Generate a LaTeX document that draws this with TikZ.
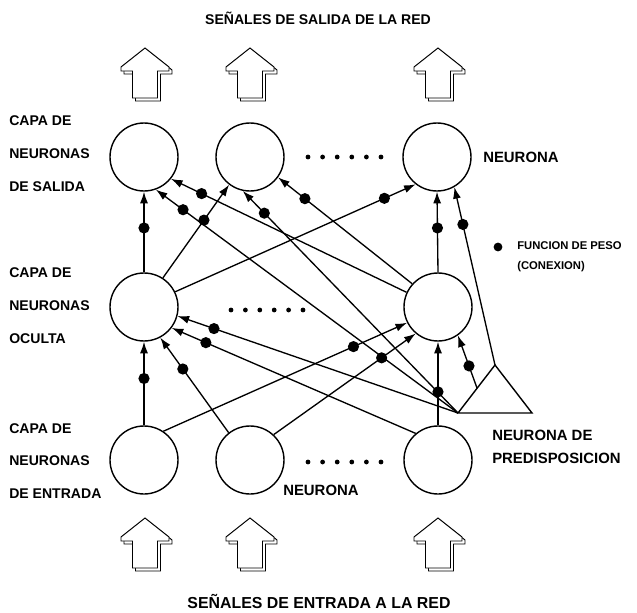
\documentclass[tikz,border=0pt]{standalone}
\usepackage{fontspec}
\setmainfont{Liberation Sans}
\usetikzlibrary{arrows.meta}

\begin{document}
\begin{tikzpicture}[
  x=0.25mm, y=-0.25mm,
  font=\bfseries\fontsize{10.6}{13}\selectfont,
  neurona/.style={circle,draw,line width=1pt,minimum size=17mm,inner sep=0pt},
  con/.style={line width=0.95pt,-{Latex[length=2.9mm,width=2mm]}},
  peso/.style={circle,fill,inner sep=0pt,minimum size=2.8mm},
  capa/.style={anchor=west,inner sep=0pt,align=left,font=\bfseries\fontsize{10}{23.4}\selectfont},
  rotulo/.style={anchor=west,inner sep=0pt},
  titulo/.style={inner sep=0pt},
  flecha/.pic={
    \draw[line width=0.7pt,fill=white,shift={(3,3)}] (0,0) -- (-24,19) -- (-24,23) -- (-12.5,23) -- (-12.5,50)
      -- (12.5,50) -- (12.5,23) -- (24,23) -- (24,19) -- cycle;
    \draw[line width=0.7pt,fill=white] (0,0) -- (-24,19) -- (-24,23) -- (-12.5,23) -- (-12.5,50)
      -- (12.5,50) -- (12.5,23) -- (24,23) -- (24,19) -- cycle;
  }
]
\useasboundingbox (0,0) rectangle (637,613);

\node[titulo,font=\bfseries\fontsize{10}{13}\selectfont] (salida) at (318,18) {SEÑALES DE SALIDA DE LA RED};
\node[titulo,font=\bfseries\fontsize{11.3}{13}\selectfont] (entrada) at (319,602) {SEÑALES DE ENTRADA A LA RED};

\foreach \x in {145,250,438} {
  \pic at (\x,48) {flecha};
  \pic at (\x,518) {flecha};
}

\node[neurona] (O1) at (144,157) {};
\node[neurona] (O2) at (250,157) {};
\node[neurona] (O3) at (437,157) {};
\node[neurona] (H1) at (144,307) {};
\node[neurona] (H3) at (438,307) {};
\node[neurona] (I1) at (144,460) {};
\node[neurona] (I2) at (250,460) {};
\node[neurona] (I3) at (438,460) {};

\coordinate (Bt) at (495,365);
\coordinate (Bl) at (458,413);
\coordinate (Br) at (532,413);
\coordinate (Bs) at (477,388);
\draw[line width=1pt] (Bt) -- (Bl) -- (Br) -- cycle;

\foreach \k in {0,...,5} {
  \fill (308+14.6*\k,157) circle[radius=0.6mm];
  \fill (231+14.4*\k,310) circle[radius=0.6mm];
  \fill (308+14.6*\k,462) circle[radius=0.6mm];
}

\draw[con] (I1.north) -- node[peso,pos=.56]{} (H1.south);
\draw[con] (I2.128) -- node[peso,pos=.67]{} (H1.-62);
\draw[con] (I3.130) -- node[peso,pos=.86]{} (H1.-37);
\draw[con] (Bl) -- node[peso,pos=.87]{} (H1.-15);
\draw[con] (I1.56) -- node[peso,pos=.78]{} (H3.-153);
\draw[con] (I2.47) -- node[peso,pos=.76]{} (H3.-130);
\draw[con] (I3.north) -- node[peso,pos=.4]{} (H3.south);
\draw[con] (Bs) -- node[peso,pos=.42]{} (H3.-55);

\draw[con] (H1.north) -- node[peso,pos=.55]{} (O1.south);
\draw[con] (H3.155) -- node[peso,pos=.87]{} (O1.-39);
\draw[con] (Bl) -- node[peso,pos=.91]{} (O1.-70);
\draw[con] (H1.57) -- node[peso,pos=.62]{} (O2.-127);
\draw[con] (H3.138) -- node[peso,pos=.8]{} (O2.-36);
\draw[con] (Bl) -- node[peso,pos=.9]{} (O2.-102);
\draw[con] (H1.26) -- node[peso,pos=.87]{} (O3.-128);
\draw[con] (H3.north) -- node[peso,pos=.55]{} (O3.south);
\draw[con] (Bt) -- node[peso,pos=.79]{} (O3.-60);

\node[capa] (csal) at (9,154) {CAPA DE\\NEURONAS\\DE SALIDA};
\node[capa] (coc) at (9,306) {CAPA DE\\NEURONAS\\OCULTA};
\node[capa] (cent) at (9,461) {CAPA DE\\NEURONAS\\DE ENTRADA};

\node[rotulo] (nsal) at (483,157) {NEURONA};
\node[rotulo] (nent) at (283,490) {NEURONA};
\node[rotulo,align=left,font=\bfseries\fontsize{10.6}{16.3}\selectfont] (npred) at (492,447) {NEURONA DE\\PREDISPOSICION};

\node[peso,minimum size=2.2mm] (leyenda) at (498,247) {};
\node[rotulo,align=left,font=\bfseries\fontsize{8}{14}\selectfont] (tleyenda) at (517,257) {FUNCION DE PESO\\(CONEXION)};
\end{tikzpicture}
\end{document}
